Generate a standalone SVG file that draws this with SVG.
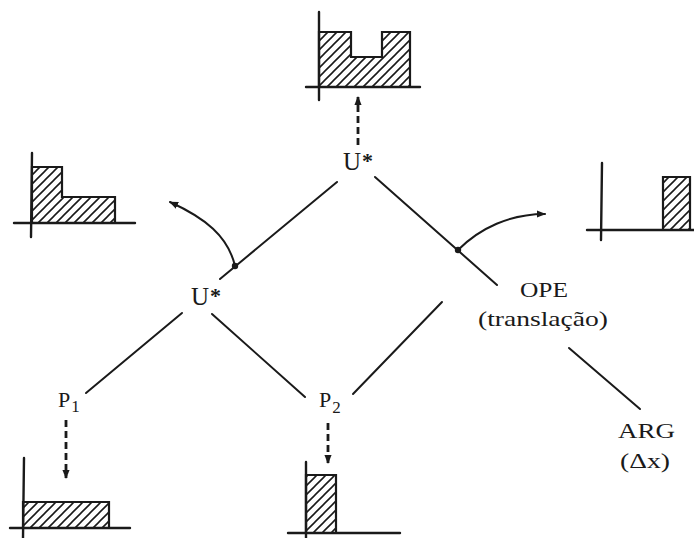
<svg xmlns="http://www.w3.org/2000/svg" width="694" height="538" viewBox="0 0 694 538">
  <style>
    .lbl { font-family: "Liberation Serif", "DejaVu Serif", serif; fill: #1a1a1a; }
    .big { font-size: 25px; }
    .mid { font-size: 22px; }
    .sub { font-size: 17px; }
    .star { font-size: 22px; font-weight: bold; }
    .edge { stroke: #1a1a1a; stroke-width: 2; fill: none; stroke-linecap: round; }
    .dash { stroke: #1a1a1a; stroke-width: 2.8; fill: none; stroke-dasharray: 7 4; }
    .axis { stroke: #1a1a1a; stroke-width: 2.4; fill: none; stroke-linecap: round; }
    .bar { fill: url(#hatch); stroke: #1a1a1a; stroke-width: 2.2; stroke-linejoin: miter; }
  </style>
  <defs>
    <pattern id="hatch" patternUnits="userSpaceOnUse" width="9" height="9">
      <path d="M-2,2 L2,-2 M0,9 L9,0 M7,11 L11,7" stroke="#1a1a1a" stroke-width="1.6"/>
    </pattern>
    <marker id="head" viewBox="0 0 10 10" refX="9" refY="5" markerWidth="9" markerHeight="9" markerUnits="userSpaceOnUse" orient="auto">
      <path d="M0,1 L10,5 L0,9 Z" fill="#1a1a1a"/>
    </marker>
  </defs>

  <!-- tree edges and arrows -->
  <g id="connectors">
    <line class="edge" x1="337" y1="182" x2="220" y2="279"/>
    <line class="edge" x1="375" y1="177" x2="497" y2="285"/>
    <line class="edge" x1="182" y1="313" x2="86" y2="393"/>
    <line class="edge" x1="212" y1="314" x2="305" y2="397"/>
    <line class="edge" x1="353" y1="394" x2="442" y2="302"/>
    <line class="edge" x1="569" y1="348" x2="640" y2="409"/>
    <circle cx="235" cy="266" r="3.2" fill="#1a1a1a"/>
    <circle cx="458" cy="250" r="3.2" fill="#1a1a1a"/>
    <path class="edge" d="M235,266 C228,236 205,218 170,202" marker-end="url(#head)"/>
    <path class="edge" d="M458,250 C480,228 510,214 545,214" marker-end="url(#head)"/>
    <line class="dash" x1="358" y1="145" x2="358" y2="97" marker-end="url(#head)"/>
    <line class="dash" x1="66" y1="420" x2="66" y2="478" marker-end="url(#head)"/>
    <line class="dash" x1="328" y1="423" x2="328" y2="463" marker-end="url(#head)"/>
  </g>

  <g id="u-top">
    <text class="lbl big" x="343" y="170">U<tspan class="star" dx="1" dy="-2">*</tspan></text>
  </g>
  <g id="u-mid">
    <text class="lbl big" x="191" y="305">U<tspan class="star" dx="1" dy="-2">*</tspan></text>
  </g>
  <g id="ope">
    <text class="lbl mid" x="520" y="297" textLength="48" lengthAdjust="spacingAndGlyphs">OPE</text>
    <text class="lbl mid" x="478" y="326" textLength="130" lengthAdjust="spacingAndGlyphs">(translação)</text>
  </g>
  <g id="arg">
    <text class="lbl mid" x="618" y="438" textLength="57" lengthAdjust="spacingAndGlyphs">ARG</text>
    <text class="lbl mid" x="620" y="468" textLength="50" lengthAdjust="spacingAndGlyphs">(Δx)</text>
  </g>
  <g id="p1">
    <text class="lbl mid" x="58" y="407">P<tspan class="sub" dx="1" dy="5">1</tspan></text>
  </g>
  <g id="p2">
    <text class="lbl mid" x="319" y="407">P<tspan class="sub" dx="1" dy="6">2</tspan></text>
  </g>

  <!-- histograms -->
  <g id="chart-top">
    <path class="bar" d="M319,87 V32 H351 V57 H382 V32 H410 V87 Z"/>
    <line class="axis" x1="319" y1="12" x2="319" y2="100"/>
    <line class="axis" x1="306" y1="87" x2="420" y2="87"/>
  </g>
  <g id="chart-left">
    <path class="bar" d="M32,223 V167 H62 V197 H115 V223 Z"/>
    <line class="axis" x1="32" y1="153" x2="31" y2="237"/>
    <line class="axis" x1="14" y1="223" x2="135" y2="223"/>
  </g>
  <g id="chart-right">
    <path class="bar" d="M663,230 V177 H690 V230 Z"/>
    <line class="axis" x1="602" y1="163" x2="601" y2="240"/>
    <line class="axis" x1="587" y1="230" x2="694" y2="230"/>
  </g>
  <g id="chart-p1">
    <path class="bar" d="M23,528 V502 H109 V528 Z"/>
    <line class="axis" x1="24" y1="458" x2="23" y2="538"/>
    <line class="axis" x1="10" y1="528" x2="130" y2="528"/>
  </g>
  <g id="chart-p2">
    <path class="bar" d="M306,533 V475 H336 V533 Z"/>
    <line class="axis" x1="306" y1="462" x2="306" y2="538"/>
    <line class="axis" x1="288" y1="533" x2="400" y2="533"/>
  </g>
</svg>
